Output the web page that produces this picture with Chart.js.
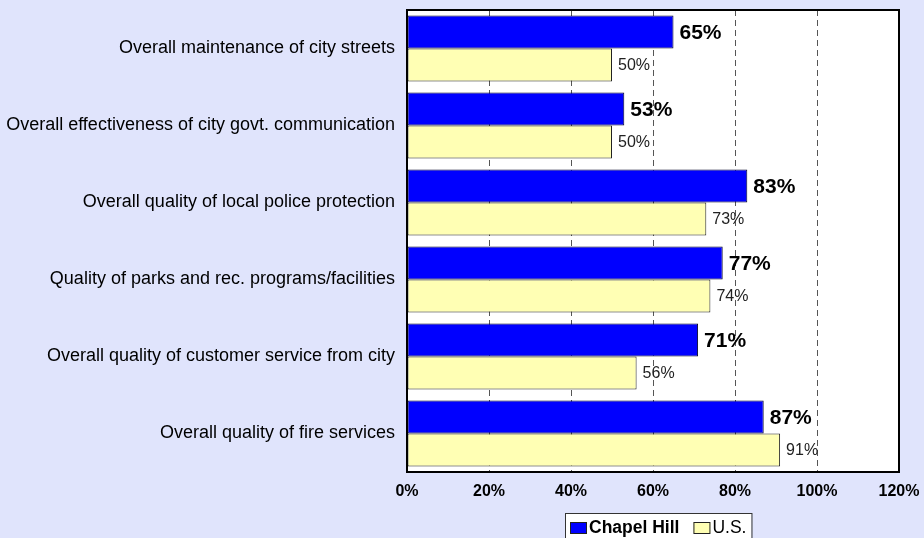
<!DOCTYPE html>
<html>
<head>
<meta charset="utf-8">
<script src="https://cdn.jsdelivr.net/npm/chart.js@4"></script>
<style>
  html, body { margin: 0; padding: 0; background: #E0E4FC; }
  canvas { display: block; }
</style>
</head>
<body>
<canvas id="chart" width="924" height="538"></canvas>
<script>
const categories = [
    "Overall maintenance of city streets",
    "Overall effectiveness of city govt. communication",
    "Overall quality of local police protection",
    "Quality of parks and rec. programs/facilities",
    "Overall quality of customer service from city",
    "Overall quality of fire services"
];
const chapelHill = [65, 53, 83, 77, 71, 87];
const usValues = [50, 50, 73, 74, 56, 91];
const seriesNames = ["Chapel Hill", "U.S."];
const xTicks = [0, 20, 40, 60, 80, 100, 120];

const FONT = "'Liberation Sans', Arial, sans-serif";

// page background + white plot area, border drawn on top
const frame = {
    id: 'frame',
    beforeDraw(chart) {
        const {ctx, chartArea: a} = chart;
        ctx.save();
        ctx.fillStyle = '#E0E4FC';
        ctx.fillRect(0, 0, chart.width, chart.height);
        ctx.fillStyle = '#FFFFFF';
        ctx.fillRect(a.left, a.top, a.right - a.left, a.bottom - a.top);
        ctx.restore();
    },
    afterDraw(chart) {
        const {ctx, chartArea: a} = chart;
        ctx.save();
        ctx.strokeStyle = '#000';
        ctx.lineWidth = 2;
        ctx.strokeRect(a.left, a.top, a.right - a.left, a.bottom - a.top);
        ctx.restore();
    }
};

// value labels at the end of each bar
const valueLabels = {
    id: 'valueLabels',
    afterDatasetsDraw(chart) {
        const ctx = chart.ctx;
        ctx.save();
        ctx.textBaseline = 'middle';
        ctx.textAlign = 'left';
        chart.data.datasets.forEach((ds, i) => {
            const meta = chart.getDatasetMeta(i);
            ctx.font = i === 0 ? 'bold 21px ' + FONT : '16px ' + FONT;
            ctx.fillStyle = i === 0 ? '#000' : '#222';
            meta.data.forEach((bar, j) => {
                ctx.fillText(ds.data[j] + '%', bar.x + 6, bar.y + 1);
            });
        });
        ctx.restore();
    }
};

// boxed legend under the axis, first entry in bold
const boxLegend = {
    id: 'boxLegend',
    afterDraw(chart) {
        const ctx = chart.ctx;
        const ds = chart.data.datasets;
        const fonts = ['bold 17.5px ' + FONT, '17.5px ' + FONT];
        const sw = 17, gap = 2, itemGap = 14, pad = 5;
        ctx.save();
        const widths = ds.map((d, i) => { ctx.font = fonts[i]; return ctx.measureText(d.label).width; });
        const total = pad * 2 + widths.reduce((s, w) => s + sw + gap + w, 0) + itemGap * (ds.length - 1);
        const cx = 658;
        const left = Math.round(cx - total / 2);
        const top = 513.5;
        ctx.fillStyle = '#FFFFFF';
        ctx.fillRect(left, top, total, 40);
        ctx.strokeStyle = '#333';
        ctx.lineWidth = 1;
        ctx.strokeRect(left + 0.5, top, total, 40);
        let x = left + pad;
        const cy = 527.5;
        ds.forEach((d, i) => {
            ctx.fillStyle = d.backgroundColor;
            ctx.fillRect(x, cy - 5.5, sw, 11);
            ctx.strokeStyle = '#222';
            ctx.strokeRect(x + 0.5, cy - 5, sw - 1, 11);
            x += sw + gap;
            ctx.font = fonts[i];
            ctx.fillStyle = '#000';
            ctx.textBaseline = 'middle';
            ctx.textAlign = 'left';
            ctx.fillText(d.label, x, cy + 1);
            x += widths[i] + itemGap;
        });
        ctx.restore();
    }
};

new Chart(document.getElementById('chart'), {
    type: 'bar',
    data: {
        labels: categories,
        datasets: [
            {
                label: seriesNames[0],
                data: chapelHill,
                backgroundColor: '#0000FF',
                borderColor: '#000022',
                borderWidth: 1,
                borderSkipped: false
            },
            {
                label: seriesNames[1],
                data: usValues,
                backgroundColor: '#FFFFB4',
                borderColor: '#222222',
                borderWidth: 1,
                borderSkipped: false
            }
        ]
    },
    options: {
        indexAxis: 'y',
        responsive: false,
        animation: false,
        layout: { padding: { top: 10, right: 25, bottom: 0, left: 0 } },
        datasets: { bar: { categoryPercentage: 0.86, barPercentage: 1.0 } },
        plugins: {
            legend: { display: false },
            tooltip: { enabled: false }
        },
        scales: {
            x: {
                min: 0,
                max: 120,
                afterBuildTicks: scale => { scale.ticks = xTicks.map(v => ({ value: v })); },
                afterFit: scale => {
                    scale.height = 66;
                    scale.paddingLeft = 0;
                    scale.paddingRight = 0;
                },
                ticks: {
                    callback: v => v + '%',
                    color: '#000',
                    padding: 10,
                    maxRotation: 0,
                    font: { family: FONT, size: 16, weight: 'bold' }
                },
                grid: {
                    drawTicks: false,
                    lineWidth: 1,
                    color: c => (c.tick && (c.tick.value === 0 || c.tick.value === 120)) ? 'rgba(0,0,0,0)' : '#555'
                },
                border: { display: false, dash: [6, 4] }
            },
            y: {
                afterFit: scale => {
                    scale.width = 407;
                    scale.paddingTop = 0;
                    scale.paddingBottom = 0;
                },
                ticks: {
                    color: '#000',
                    padding: 12,
                    font: { family: FONT, size: 18 }
                },
                grid: { display: false, drawTicks: false },
                border: { display: false }
            }
        }
    },
    plugins: [frame, valueLabels, boxLegend]
});
</script>
</body>
</html>
